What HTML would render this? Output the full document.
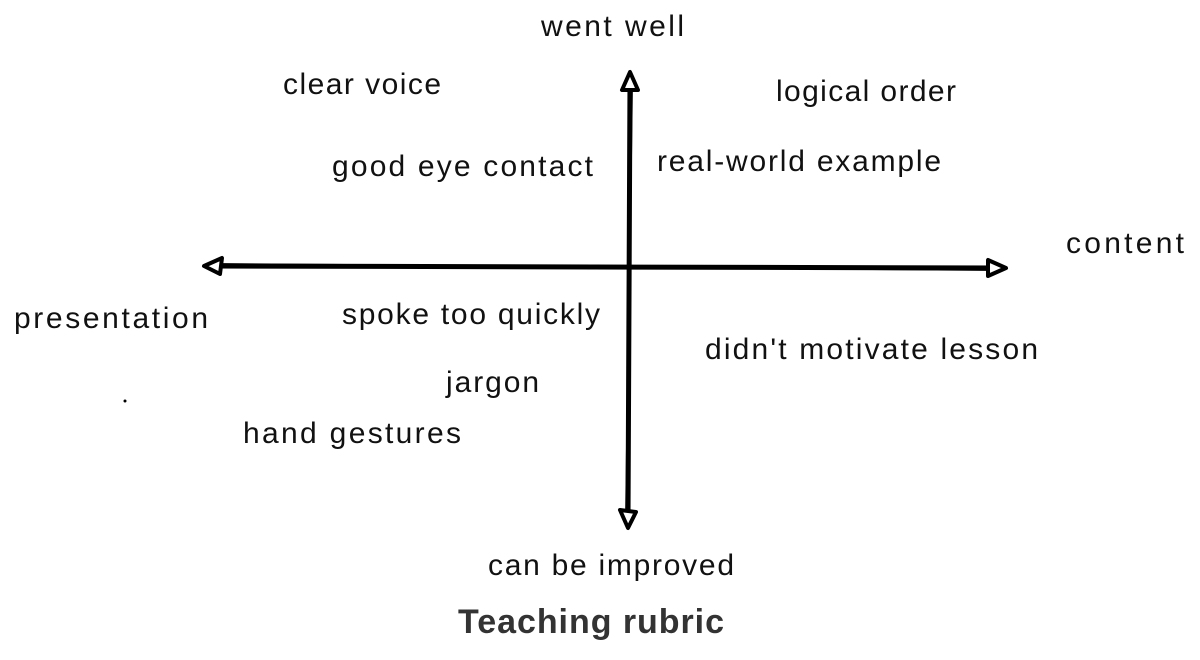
<!DOCTYPE html>
<html><head><meta charset="utf-8"><style>
html,body{margin:0;padding:0;background:#fff;}
svg{display:block}
text{font-family:"Liberation Sans",sans-serif;font-size:30px;fill:#111;}
</style></head><body>
<svg width="1200" height="660" viewBox="0 0 1200 660" xmlns="http://www.w3.org/2000/svg">
<g stroke="#000" fill="none" stroke-linecap="round" stroke-linejoin="round">
<path d="M210 266 L1000 268" stroke-width="5"/>
<path d="M210 264 L1000 270" stroke-width="2"/>
<path d="M630 80 L628 520" stroke-width="5"/>
<path d="M632 82 L626 522" stroke-width="2"/>
<path d="M204 266 L222 258 L220 274 Z" stroke-width="4" fill="#fff"/>
<path d="M1006 268 L988 260 L988 276 Z" stroke-width="4" fill="#fff"/>
<path d="M630 72 L622 90 L638 90 Z" stroke-width="4" fill="#fff"/>
<path d="M628 528 L620 510 L636 512 Z" stroke-width="4" fill="#fff"/>
</g>
<circle cx="125" cy="401" r="1.5" fill="#000"/>
<text x="541" y="36" textLength="143">went well</text>
<text x="283" y="94" textLength="158">clear voice</text>
<text x="776" y="101" textLength="180">logical order</text>
<text x="332" y="176" textLength="261">good eye contact</text>
<text x="657" y="171" textLength="284">real-world example</text>
<text x="1066" y="253" textLength="118">content</text>
<text x="14" y="328" textLength="194">presentation</text>
<text x="342" y="324" textLength="258">spoke too quickly</text>
<text x="705" y="359" textLength="333">didn't motivate lesson</text>
<text x="446" y="392" textLength="93">jargon</text>
<text x="243" y="443" textLength="218">hand gestures</text>
<text x="488" y="575" textLength="246">can be improved</text>
<text x="458" y="633" textLength="266" style="font-weight:bold;font-size:34px;fill:#333">Teaching rubric</text>
</svg>
</body></html>
